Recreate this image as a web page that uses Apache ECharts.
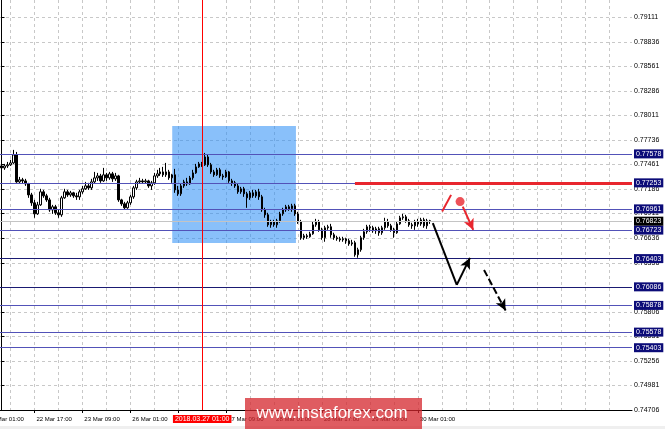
<!DOCTYPE html>
<html><head><meta charset="utf-8">
<script src="https://cdn.jsdelivr.net/npm/echarts@6/dist/echarts.min.js"></script>
<style>html,body{margin:0;padding:0;background:#fff}#c{width:665px;height:429px}</style>
</head><body><div id="c"></div>
<script>
// ---- data ----
const tradingDays = ['22 Mar','23 Mar','26 Mar','27 Mar','28 Mar','29 Mar','30 Mar','2 Apr','3 Apr','4 Apr'];
const firstHour = 6;
const slotCount = 211;
const firstLabel = '22 Mar 17:00';
const labelEvery = 16;
const offLeftLabel = '22 Mar 01:00';

const opens = [
0.77443,0.77421,0.77443,0.77455,0.77477,0.77567,0.77264,0.77287,0.77275,0.77242,
0.77118,0.77029,0.76905,0.77006,0.77152,0.77107,0.77062,0.76950,0.76984,0.76917,
0.76894,0.77085,0.77152,0.77118,0.77141,0.77107,0.77096,0.77152,0.77186,0.77219,
0.77197,0.77264,0.77309,0.77331,0.77275,0.77343,0.77309,0.77354,0.77298,0.77331,
0.77062,0.77018,0.76973,0.77029,0.77096,0.77197,0.77264,0.77275,0.77264,0.77275,
0.77219,0.77253,0.77331,0.77354,0.77376,0.77343,0.77376,0.77309,0.77343,0.77174,
0.77130,0.77219,0.77264,0.77242,0.77309,0.77365,0.77432,0.77466,0.77455,0.77544,
0.77455,0.77376,0.77343,0.77399,0.77331,0.77320,0.77376,0.77275,0.77253,0.77219,
0.77152,0.77186,0.77130,0.77085,0.77141,0.77107,0.77152,0.77096,0.76950,0.76894,
0.76782,0.76816,0.76782,0.76827,0.76905,0.76950,0.76984,0.76962,0.76995,0.76905,
0.76816,0.76637,0.76659,0.76648,0.76681,0.76782,0.76816,0.76726,0.76637,0.76749,
0.76760,0.76670,0.76637,0.76625,0.76614,0.76625,0.76603,0.76569,0.76581,0.76446,
0.76502,0.76637,0.76704,0.76760,0.76749,0.76715,0.76737,0.76693,0.76749,0.76816,
0.76771,0.76726,0.76693,0.76793,0.76861,0.76872,0.76827,0.76782,0.76771,0.76816,
0.76793,0.76838,0.76771,0.76827];
const closes = [
0.77421,0.77443,0.77455,0.77477,0.77567,0.77264,0.77287,0.77275,0.77242,0.77118,
0.77029,0.76905,0.77006,0.77152,0.77107,0.77062,0.76950,0.76984,0.76917,0.76894,
0.77085,0.77152,0.77118,0.77141,0.77107,0.77096,0.77152,0.77186,0.77219,0.77197,
0.77264,0.77309,0.77331,0.77275,0.77343,0.77309,0.77354,0.77298,0.77331,0.77062,
0.77018,0.76973,0.77029,0.77096,0.77197,0.77264,0.77275,0.77264,0.77275,0.77219,
0.77253,0.77331,0.77354,0.77376,0.77343,0.77376,0.77309,0.77343,0.77174,0.77130,
0.77219,0.77264,0.77242,0.77309,0.77365,0.77432,0.77466,0.77455,0.77544,0.77455,
0.77376,0.77343,0.77399,0.77331,0.77320,0.77376,0.77275,0.77253,0.77219,0.77152,
0.77186,0.77130,0.77085,0.77141,0.77107,0.77152,0.77096,0.76950,0.76894,0.76782,
0.76816,0.76782,0.76827,0.76905,0.76950,0.76984,0.76962,0.76995,0.76905,0.76816,
0.76637,0.76659,0.76648,0.76681,0.76782,0.76816,0.76726,0.76637,0.76749,0.76760,
0.76670,0.76637,0.76625,0.76614,0.76625,0.76603,0.76569,0.76581,0.76446,0.76502,
0.76637,0.76704,0.76760,0.76749,0.76715,0.76737,0.76693,0.76749,0.76816,0.76771,
0.76726,0.76693,0.76793,0.76861,0.76872,0.76827,0.76782,0.76771,0.76816,0.76793,
0.76838,0.76771,0.76827,0.76823];
const lows = [
0.77399,0.77399,0.77421,0.77443,0.77466,0.77253,0.77242,0.77242,0.77219,0.77085,
0.76995,0.76861,0.76894,0.76995,0.77085,0.77040,0.76928,0.76905,0.76894,0.76861,
0.76872,0.77074,0.77096,0.77096,0.77085,0.77062,0.77062,0.77130,0.77174,0.77174,
0.77174,0.77242,0.77275,0.77253,0.77264,0.77275,0.77287,0.77264,0.77275,0.77040,
0.76995,0.76950,0.76962,0.77006,0.77074,0.77174,0.77242,0.77242,0.77242,0.77197,
0.77174,0.77231,0.77309,0.77331,0.77320,0.77320,0.77287,0.77253,0.77141,0.77107,
0.77107,0.77197,0.77219,0.77231,0.77287,0.77354,0.77421,0.77432,0.77443,0.77432,
0.77354,0.77320,0.77331,0.77309,0.77287,0.77309,0.77253,0.77219,0.77197,0.77130,
0.77130,0.77096,0.76973,0.77062,0.77085,0.77085,0.77062,0.76928,0.76861,0.76760,
0.76749,0.76760,0.76749,0.76805,0.76883,0.76928,0.76939,0.76928,0.76883,0.76793,
0.76614,0.76614,0.76625,0.76637,0.76670,0.76760,0.76704,0.76614,0.76592,0.76726,
0.76637,0.76614,0.76603,0.76592,0.76592,0.76569,0.76547,0.76547,0.76424,0.76413,
0.76480,0.76614,0.76681,0.76704,0.76693,0.76681,0.76659,0.76670,0.76726,0.76749,
0.76704,0.76637,0.76681,0.76782,0.76838,0.76805,0.76760,0.76737,0.76726,0.76760,
0.76771,0.76749,0.76737,0.76793];
const highs = [
0.77477,0.77466,0.77488,0.77511,0.77623,0.77600,0.77320,0.77309,0.77298,0.77253,
0.77141,0.77062,0.77040,0.77186,0.77174,0.77130,0.77085,0.77006,0.77006,0.76950,
0.77107,0.77186,0.77174,0.77163,0.77152,0.77141,0.77174,0.77219,0.77264,0.77253,
0.77298,0.77376,0.77365,0.77354,0.77421,0.77365,0.77376,0.77376,0.77365,0.77343,
0.77074,0.77040,0.77051,0.77118,0.77219,0.77287,0.77309,0.77298,0.77298,0.77287,
0.77275,0.77365,0.77399,0.77421,0.77432,0.77477,0.77399,0.77354,0.77410,0.77219,
0.77242,0.77287,0.77309,0.77331,0.77399,0.77466,0.77488,0.77488,0.77589,0.77567,
0.77477,0.77399,0.77421,0.77421,0.77354,0.77399,0.77387,0.77298,0.77275,0.77242,
0.77208,0.77208,0.77152,0.77163,0.77174,0.77174,0.77186,0.77118,0.76973,0.76917,
0.76838,0.76838,0.76849,0.76928,0.76973,0.77006,0.77006,0.77018,0.77018,0.76928,
0.76838,0.76681,0.76681,0.76704,0.76816,0.76849,0.76838,0.76749,0.76771,0.76782,
0.76793,0.76693,0.76659,0.76648,0.76648,0.76637,0.76625,0.76614,0.76603,0.76525,
0.76659,0.76737,0.76782,0.76782,0.76771,0.76760,0.76760,0.76771,0.76861,0.76849,
0.76793,0.76749,0.76816,0.76883,0.76905,0.76894,0.76849,0.76805,0.76838,0.76849,
0.76861,0.76861,0.76849,0.76838];

const yTicks = [0.74706,0.74981,0.75256,0.75531,0.75806,0.76081,0.76356,0.76636,0.76911,
                0.77186,0.77461,0.77736,0.78011,0.78286,0.78561,0.78836,0.79111];
const levelLines = [0.77578,0.77253,0.76961,0.76723,0.76403,0.76086,0.75878,0.75578,0.75403];
const levelDark  = [false,false,false,false,true,true,false,false,false];
const currentPrice = 0.76823;
const markedTime = '27 Mar 01:00';
const markedLabel = '2018.03.27 01:00';
const gridSlots = [3,11,19,27,35,43,51,59,67,75,83,91,99,107,115,123,131,139,147,155,163,171,179,187,195,203];
// annotations: [slot position, price]
const zoneBox = [[57.0,0.77892],[98.3,0.76579]];
const redTrend = [[118.0,0.77253],[210.5,0.77253]];
const blackPath = [[144.0,0.76800],[152.0,0.76108],[156.4,0.76411]];
const blackDashed = [[161.1,0.76276],[168.3,0.75820]];
const redSlash = [[147.1,0.76931],[150.1,0.77118]];
const redArrow = [[154.0,0.76987],[157.5,0.76725]];
const redDot = [[153.1,0.77043]];

// ---- build ----
const categories = [];
tradingDays.forEach((d, di) => {
  for (let h = (di === 0 ? firstHour : 0); h < 24; h++) categories.push(d + ' ' + String(h).padStart(2,'0') + ':00');
});
categories.length = slotCount;
const candleData = opens.map((o, i) => [o, closes[i], lows[i], highs[i]]);
const lastIdx = opens.length - 1;
const firstIdx = categories.indexOf(firstLabel);
const showLabel = i => i >= firstIdx && i <= lastIdx && (i - firstIdx) % labelEvery === 0;
const FONT = 'Liberation Sans';
const RED = '#e8262e';

const levelItems = levelLines.map((v, i) => ({
  yAxis: v,
  lineStyle: {color: levelDark[i] ? '#1a1a72' : '#5252b8', width: 1, type: 'solid'},
  label: {show: true, position: 'end', formatter: v.toFixed(5), backgroundColor: '#0c0c78',
          color: '#fff', fontSize: 7, fontFamily: FONT, padding: [1,2,1,2], distance: 2}
}));
levelItems.push({
  yAxis: currentPrice,
  lineStyle: {color: '#c4c4c4', width: 1, type: 'solid'},
  label: {show: true, position: 'end', formatter: currentPrice.toFixed(5), backgroundColor: '#000',
          color: '#fff', fontSize: 7, fontFamily: FONT, padding: [1,2,1,2], distance: 2}
});
levelItems.push({
  xAxis: markedTime,
  lineStyle: {color: '#ff0000', width: 1, type: 'solid'},
  label: {show: true, position: 'start', formatter: markedLabel, backgroundColor: '#f00',
          color: '#fff', fontSize: 7, fontFamily: FONT, padding: [1,2,0,2], distance: 5}
});

const seg = (a, b, style, arrow) => [
  {coord: a, symbol: 'none', lineStyle: style},
  {coord: b, symbol: arrow ? 'arrow' : 'none', symbolSize: [8, 11]}
];
const annotLines = [
  seg(redTrend[0], redTrend[1], {color: RED, width: 3, type: 'solid'}, false),
  seg(redSlash[0], redSlash[1], {color: RED, width: 2, type: 'solid'}, false),
  seg(redArrow[0], redArrow[1], {color: RED, width: 2, type: 'solid'}, true),
  seg(blackPath[0], blackPath[1], {color: '#000', width: 2, type: 'solid'}, false),
  seg(blackPath[1], blackPath[2], {color: '#000', width: 2, type: 'solid'}, true),
  seg(blackDashed[0], blackDashed[1], {color: '#000', width: 2, type: [7,3]}, true)
];

const chart = echarts.init(document.getElementById('c'), null, {renderer: 'canvas'});
chart.setOption({
  animation: false,
  backgroundColor: '#ffffff',
  grid: {left: 0, right: 33, top: 0, bottom: 19, containLabel: false},
  xAxis: [
    {type: 'category', data: categories, boundaryGap: true, position: 'bottom',
     axisLine: {show: true, lineStyle: {color: '#000', width: 1}},
     axisTick: {show: true, alignWithLabel: true, interval: i => showLabel(i), length: 3, lineStyle: {color: '#000'}},
     axisLabel: {interval: i => showLabel(i), align: 'left', margin: 6, padding: [0,0,0,2],
                 fontSize: 6, fontFamily: FONT, color: '#000'},
     splitLine: {show: false}},
    {type: 'value', min: -0.5, max: slotCount - 0.5, position: 'bottom',
     axisLine: {show: false}, axisLabel: {show: false},
     axisTick: {show: false, customValues: gridSlots},
     splitLine: {show: true, lineStyle: {color: '#c8c8c8', type: [3,3], width: 1}}}
  ],
  yAxis: {type: 'value', position: 'right', min: 0.74704, max: 0.79305,
    axisLine: {show: true, lineStyle: {color: '#000', width: 1}},
    axisTick: {show: true, customValues: yTicks, length: 3, lineStyle: {color: '#000'}},
    axisLabel: {customValues: yTicks, formatter: v => v.toFixed(5), fontSize: 7, fontFamily: FONT, color: '#000', margin: 2},
    splitLine: {show: true, lineStyle: {color: '#c8c8c8', type: [3,3], width: 1}}},
  series: [
    {type: 'line', xAxisIndex: 1, yAxisIndex: 0, data: [], z: 1, silent: true,
     markArea: {silent: true, itemStyle: {color: 'rgba(40,140,245,0.55)'},
                data: [[{coord: zoneBox[0]}, {coord: zoneBox[1]}]]}},
    {type: 'candlestick', xAxisIndex: 0, yAxisIndex: 0, data: candleData, barWidth: 2, z: 3, silent: true,
     itemStyle: {color: '#ffffff', color0: '#000000', borderColor: '#000000', borderColor0: '#000000', borderWidth: 1},
     markLine: {silent: true, symbol: 'none', animation: false, precision: 5, data: levelItems}},
    {type: 'scatter', xAxisIndex: 1, yAxisIndex: 0, data: redDot, symbolSize: 9, z: 5, silent: true,
     itemStyle: {color: RED},
     markLine: {silent: true, animation: false, precision: 5, label: {show: false}, data: annotLines}}
  ],
  graphic: [
    {type: 'rect', shape: {x: 0, y: 426, width: 665, height: 3}, style: {fill: '#efefef'}, z: 1},
    {type: 'text', x: -11.5, y: 416, style: {text: offLeftLabel, fill: '#000', font: '6px "Liberation Sans"'}, z: 10},
    {type: 'rect', shape: {x: 245, y: 398, width: 177, height: 31}, style: {fill: 'rgba(212,38,44,0.75)'}, z: 100},
    {type: 'text', x: 332, y: 413.5, style: {text: 'www.instaforex.com', fill: '#fff', font: '17px "Liberation Sans"',
      align: 'center', verticalAlign: 'middle'}, z: 101}
  ]
});
</script></body></html>
